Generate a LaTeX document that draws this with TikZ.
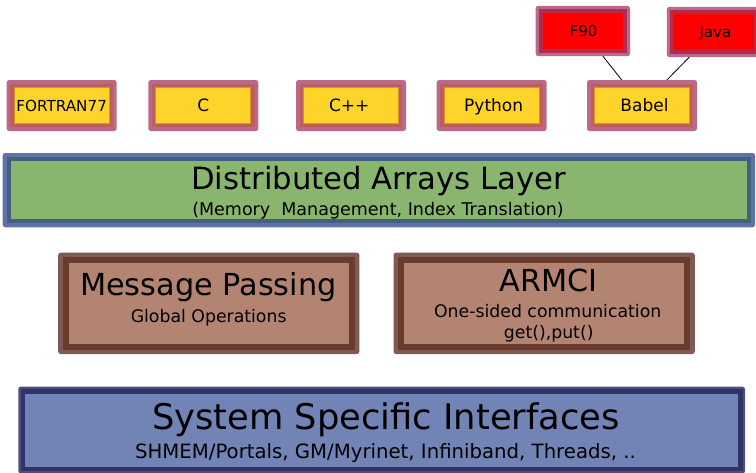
\documentclass[tikz,border=0pt]{standalone}
\usepackage{fontspec}
\setmainfont{DejaVu Sans}
\usetikzlibrary{backgrounds,calc}

\definecolor{langfill}{HTML}{FFD42A}
\definecolor{langedge}{HTML}{E0902C}
\definecolor{pinkout}{HTML}{B96A8A}
\definecolor{pinkin}{HTML}{BC5E5E}
\definecolor{redfill}{HTML}{FF0000}
\definecolor{redin}{HTML}{B52A4A}
\definecolor{layerfill}{HTML}{8AB56F}
\definecolor{layerout}{HTML}{5F73A8}
\definecolor{layerin}{HTML}{44607F}
\definecolor{commfill}{HTML}{B38472}
\definecolor{commout}{HTML}{7E5A55}
\definecolor{commin}{HTML}{6A3A2C}
\definecolor{sysfill}{HTML}{7283B5}
\definecolor{sysout}{HTML}{4C4F80}
\definecolor{sysin}{HTML}{2E3466}

% two-tone frame behind a node: light outer band, darker inner band
\newcommand\framerings[4]{%
  \fill[#2, rounded corners=2.5pt] (#1.south west) rectangle (#1.north east);
  \fill[#3] ($(#1.south west)+(#4pt,#4pt)$) rectangle ($(#1.north east)-(#4pt,#4pt)$);
}

\tikzset{
  box/.style={rectangle, inner sep=0pt, text depth=0pt, align=center},
  langbox/.style={box, fill=langfill, draw=langedge, line width=1pt,
    minimum width=95pt, minimum height=36pt, outer sep=7.5pt,
    font=\fontsize{17}{20}\selectfont, text height=12.4pt},
  redbox/.style={box, fill=redfill, minimum width=80.3pt, minimum height=36.3pt,
    outer sep=7pt, font=\fontsize{15}{18}\selectfont, text height=10.9pt},
  layerbox/.style={box, fill=layerfill, minimum width=736.3pt,
    minimum height=58.3pt, outer sep=8pt},
  commbox/.style={box, fill=commfill, minimum width=280.5pt,
    minimum height=80.5pt, outer sep=10.4pt},
  sysbox/.style={box, fill=sysfill, minimum width=712.7pt,
    minimum height=72.8pt, outer sep=7pt},
  bigtitle/.style={anchor=base, inner sep=0pt, font=\fontsize{30.3}{36}\selectfont},
  subline/.style={anchor=base, inner sep=0pt, font=\fontsize{17.3}{21}\selectfont},
  link/.style={draw=black, line width=0.8pt}
}

\begin{document}
\begin{tikzpicture}[x=1pt,y=-1pt]
\useasboundingbox (0,0) rectangle (756,472);

% language bindings
\node[langbox] (f77) at (61.7,105.5) {\fontsize{15.2}{17}\selectfont FORTRAN77};
\node[langbox] (c) at (203.3,105.5) {C};
\node[langbox] (cpp) at (351,105.5) {C++\hspace*{3.4pt}};
\node[langbox] (python) at (491.7,105.5) {\hspace*{4pt}Python};
\node[langbox] (babel) at (642,105.5) {\hspace*{5pt}Babel};
\node[redbox] (f90) at (582.85,31) {\hspace*{1.5pt}F90};
\node[redbox] (java) at (713.9,32) {\hspace*{3pt}Java};

\draw[link] (f90) -- (babel);
\draw[link] (java) -- (babel);

% distributed arrays layer
\node[layerbox] (dal) at (378.85,190.15) {};
\node[bigtitle, font=\fontsize{30.7}{36}\selectfont] (daltitle) at (378.5,189) {Distributed Arrays Layer};
\node[subline, font=\fontsize{17.5}{21}\selectfont] (dalsub) at (378,215) {(Memory\ \ Management, Index Translation)};

% communication layers
\node[commbox] (mp) at (208.8,303.35) {};
\node[bigtitle] (mptitle) at (208.3,295.8) {Message Passing};
\node[subline] (mpsub) at (208.65,322.2) {Global Operations};

\node[commbox] (armci) at (544.15,303.35) {};
\node[bigtitle] (armcititle) at (548.3,291.2) {ARMCI};
\node[subline] (armcisub) at (547.7,317.7) {One-sided communication};
\node[subline] (armcicalls) at (548.7,338.3) {get(),put()};

% system interfaces
\node[sysbox] (sys) at (381.65,430.1) {};
\node[bigtitle, font=\fontsize{35.3}{42}\selectfont] (systitle) at (386,429.5) {System Specific Interfaces};
\node[subline, font=\fontsize{19.7}{24}\selectfont] (syssub) at (385.5,458) {SHMEM/Portals, GM/Myrinet, Infiniband, Threads, ..};

\begin{scope}[on background layer]
  \foreach \n in {f77,c,cpp,python,babel} {\framerings{\n}{pinkout}{pinkin}{3.7}}
  \foreach \n in {f90,java} {\framerings{\n}{pinkout}{redin}{3.5}}
  \framerings{dal}{layerout}{layerin}{4.1}
  \foreach \n in {mp,armci} {\framerings{\n}{commout}{commin}{4.4}}
  \framerings{sys}{sysout}{sysin}{2.5}
\end{scope}
\end{tikzpicture}
\end{document}
